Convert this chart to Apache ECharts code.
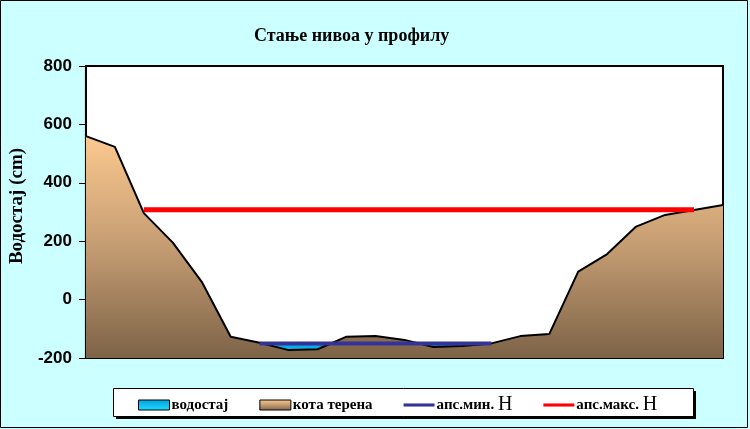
<!DOCTYPE html>
<html>
<head>
<meta charset="utf-8">
<script src="https://cdn.jsdelivr.net/npm/echarts@6/dist/echarts.min.js"></script>
<style>
  html, body { margin: 0; padding: 0; background: #ccffff; }
  #chart { width: 750px; height: 429px; }
</style>
</head>
<body>
<div id="chart"></div>
<script>
// профил - тачке по ширини корита
const points = ['1','2','3','4','5','6','7','8','9','10','11','12','13','14','15','16','17','18','19','20','21','22','23'];
// кота терена (cm)
const terrain = [560, 523, 296, 195, 61, -127, -148, -173, -170, -127, -125, -138, -162, -159, -150, -125, -118, 96, 156, 250, 290, 307, 324];
// водостај
const waterLevel = [null, null, null, null, null, null, -150, -150, -150, -150, -150, -150, -150, -150, -150, null, null, null, null, null, null, null, null];
// апс. мин. H
const absMin = [null, null, null, null, null, null, -150, -150, -150, -150, -150, -150, -150, -150, -150, null, null, null, null, null, null, null, null];
// апс. макс. H
const absMax = [null, null, 308, 308, 308, 308, 308, 308, 308, 308, 308, 308, 308, 308, 308, 308, 308, 308, 308, 308, 308, 308, null];
const yTicks = [-200, 0, 200, 400, 600, 800];

const serif = '"Liberation Serif", "DejaVu Serif", serif';
const sans = '"Liberation Sans", Arial, sans-serif';

const terrainFill = new echarts.graphic.LinearGradient(0, 0, 0, 1, [
  { offset: 0, color: '#fcc98f' },
  { offset: 0.5, color: '#c49c72' },
  { offset: 1, color: '#7d6347' }
]);
const waterFill = new echarts.graphic.LinearGradient(0, 0, 0, 1, [
  { offset: 0, color: '#00a0e0' },
  { offset: 1, color: '#22ddff' }
]);

let myChart = echarts.init(document.getElementById('chart'));
var option = {
  backgroundColor: '#ccffff',
  animation: false,
  title: {
    text: 'Стање нивоа у профилу',
    left: 249,
    top: 22,
    textStyle: { fontFamily: serif, fontWeight: 'bold', fontSize: 18, color: '#000' }
  },
  graphic: [
    // оквир слике
    {
      type: 'rect', silent: true, z: -10,
      shape: { x: 0.5, y: 0.5, width: 747, height: 427 },
      style: { fill: null, stroke: '#000', lineWidth: 1 }
    },
    // сенка и оквир легенде
    {
      type: 'rect', silent: true, z: -10,
      shape: { x: 116, y: 391, width: 580, height: 28 },
      style: { fill: '#000' }
    },
    {
      type: 'rect', silent: true, z: -9,
      shape: { x: 113.5, y: 388.5, width: 580, height: 28 },
      style: { fill: '#fff', stroke: '#000', lineWidth: 1 }
    }
  ],
  legend: {
    left: 113,
    top: 389,
    padding: [6, 14, 6, 25],
    itemGap: 31,
    itemWidth: 31,
    itemHeight: 10,
    textStyle: {
      fontFamily: serif, fontWeight: 'bold', fontSize: 15, color: '#000', padding: [0, 0, 0, -3],
      rich: {
        h: { fontFamily: serif, fontWeight: 'normal', fontSize: 20, color: '#000' }
      }
    },
    formatter: function (name) {
      if (name.slice(-1) === 'H') {
        return name.slice(0, -1) + '{h|H}';
      }
      return name;
    },
    data: [
      { name: 'водостај', icon: 'rect', itemStyle: { color: waterFill, borderColor: '#000', borderWidth: 1 } },
      { name: 'кота терена', icon: 'rect', itemStyle: { color: terrainFill, borderColor: '#000', borderWidth: 1 } },
      { name: 'апс.мин. H', icon: 'path://M0,0 L40,0 L40,4 L0,4 Z', itemStyle: { color: '#333399' } },
      { name: 'апс.макс. H', icon: 'path://M0,0 L40,0 L40,4 L0,4 Z', itemStyle: { color: '#ff0000' } }
    ]
  },
  grid: { left: 85, right: 27, top: 66, bottom: 71, show: true, backgroundColor: '#fff', borderColor: '#000', borderWidth: 2 },
  xAxis: {
    type: 'category',
    data: points,
    boundaryGap: false,
    show: false
  },
  yAxis: {
    type: 'value',
    min: yTicks[0],
    max: yTicks[yTicks.length - 1],
    interval: 200,
    name: 'Водостај (cm)',
    nameLocation: 'middle',
    nameGap: 57,
    nameTextStyle: { fontFamily: serif, fontWeight: 'bold', fontSize: 19, color: '#000', padding: [0, 0, 0, 12] },
    axisLine: { show: true, lineStyle: { color: '#000', width: 2 } },
    axisTick: { show: true, length: 7, lineStyle: { color: '#000', width: 1 } },
    axisLabel: { fontFamily: sans, fontWeight: 'bold', fontSize: 17, color: '#000', margin: 14 },
    splitLine: { show: false }
  },
  series: [
    {
      name: 'водостај',
      type: 'line',
      data: waterLevel,
      symbol: 'none',
      lineStyle: { width: 0 },
      itemStyle: { color: '#00ccff' },
      areaStyle: { origin: 'start', color: waterFill, opacity: 1 },
      z: 1
    },
    {
      name: 'кота терена',
      type: 'line',
      data: terrain,
      symbol: 'none',
      lineStyle: { color: '#000', width: 2 },
      itemStyle: { color: '#c49c72' },
      areaStyle: { origin: 'start', color: terrainFill, opacity: 1 },
      z: 2
    },
    {
      name: 'апс.мин. H',
      type: 'line',
      data: absMin,
      symbol: 'none',
      lineStyle: { color: '#333399', width: 4 },
      itemStyle: { color: '#333399' },
      z: 3
    },
    {
      name: 'апс.макс. H',
      type: 'line',
      data: absMax,
      symbol: 'none',
      lineStyle: { color: '#ff0000', width: 5 },
      itemStyle: { color: '#ff0000' },
      z: 3
    }
  ]
};
myChart.setOption(option);
window.addEventListener('resize', function () {
  myChart.resize();
});
</script>
</body>
</html>
